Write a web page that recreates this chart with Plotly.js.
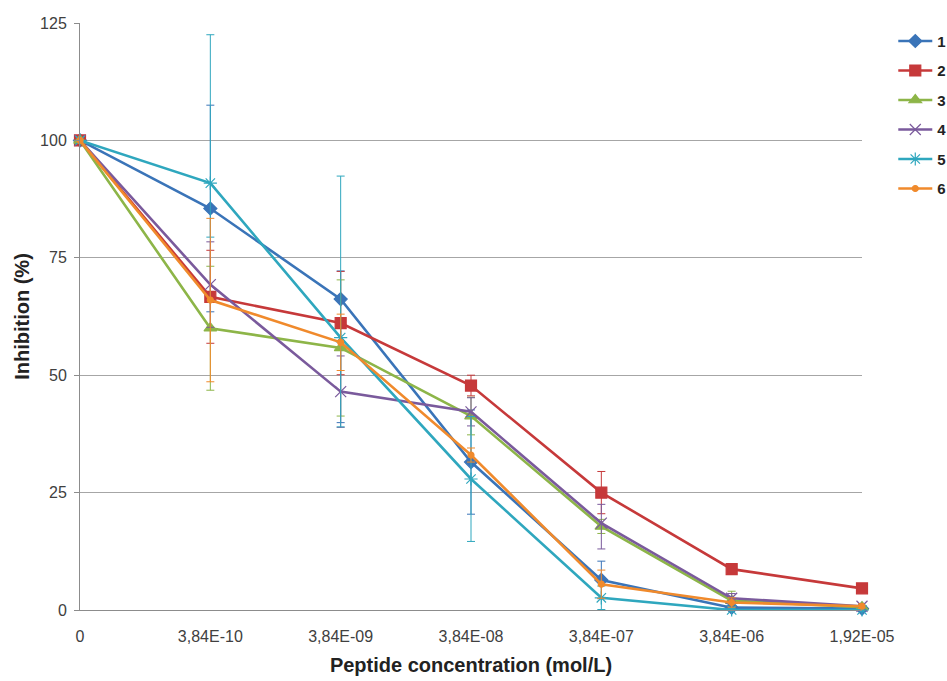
<!DOCTYPE html>
<html>
<head>
<meta charset="utf-8">
<script src="https://cdn.plot.ly/plotly-3.0.1.min.js"></script>
<style>html,body{margin:0;padding:0;background:#fff;}#chart{width:947px;height:681px;}</style>
</head>
<body>
<div id="chart"></div>
<script>
// Categories (peptide concentration, mol/L)
const concentrations = ["0", "3,84E-10", "3,84E-09", "3,84E-08", "3,84E-07", "3,84E-06", "1,92E-05"];
const seriesNames = ["1", "2", "3", "4", "5", "6"];

// Inhibition (%) per series
const s1 = [100, 85.5, 66.2, 31.5, 6.4, 0.5, 0.3];
const s2 = [100, 66.7, 61.1, 47.8, 25.0, 8.7, 4.6];
const s3 = [100, 60.0, 55.8, 41.3, 17.8, 2.0, 0.6];
const s4 = [100, 69.3, 46.5, 42.2, 18.5, 2.5, 0.8];
const s5 = [100, 90.9, 58.0, 27.9, 2.6, 0.0, 0.0];
const s6 = [100, 66.0, 57.0, 33.0, 5.5, 1.6, 0.8];

// Error bars: upper (+) and lower (-) per series
const e1p = [NaN, 22.0, 6.0, 11.1, 4.0, 0.5, 0.3];
const e1m = [NaN, 22.0, 26.3, 11.1, 4.0, 0.5, 0.3];
const e2p = [NaN, 9.9, 11.0, 2.2, 4.5, 1.0, 0.5];
const e2m = [NaN, 9.9, 11.0, 2.2, 4.5, 1.0, 0.5];
const e3p = [NaN, 13.2, 14.5, 4.0, 1.5, 2.0, 0.5];
const e3m = [NaN, 13.2, 14.5, 4.0, 1.5, 2.0, 0.5];
const e4p = [NaN, 9.1, 7.6, 3.0, 4.0, 1.0, 0.5];
const e4m = [NaN, 9.1, 7.6, 3.0, 5.5, 1.0, 0.5];
const e5p = [NaN, 31.6, 34.4, 13.3, 2.5, 0.3, 0.3];
const e5m = [NaN, 11.5, 19.0, 13.3, 2.5, 0.3, 0.3];
const e6p = [NaN, 17.4, 6.0, 1.5, 3.0, 1.0, 0.5];
const e6m = [NaN, 17.4, 6.0, 1.5, 3.0, 1.0, 0.5];

const values = [s1, s2, s3, s4, s5, s6];
const errPlus = [e1p, e2p, e3p, e4p, e5p, e6p];
const errMinus = [e1m, e2m, e3m, e4m, e5m, e6m];
const colors = ["#3A74B8", "#C6393A", "#8DB548", "#7A5A9C", "#2FA7BE", "#F08A2C"];
const symbols = ["diamond", "square", "triangle-up", "x-thin-open", "asterisk-open", "circle"];
const sizes = [10, 11, 11, 11, 11, 6];

const traces = values.map((v, i) => ({
  type: "scatter",
  mode: "lines+markers",
  name: seriesNames[i],
  legendgroup: "g" + i,
  x: concentrations,
  y: v,
  cliponaxis: false,
  line: {color: colors[i], width: 2.6},
  marker: {symbol: symbols[i], size: sizes[i], color: colors[i], line: {color: colors[i], width: 1.2}},
  error_y: {type: "data", array: errPlus[i], arrayminus: errMinus[i], symmetric: false, visible: true, color: colors[i], thickness: 1, width: 4}
}));

const layout = {
  width: 947,
  height: 681,
  paper_bgcolor: "#ffffff",
  plot_bgcolor: "#ffffff",
  margin: {l: 80, r: 85, t: 23, b: 71, autoexpand: false},
  font: {family: "Liberation Sans, Arial, sans-serif", size: 16, color: "#404040"},
  showlegend: true,
  legend: {
    x: 1.04, y: 0.997, xanchor: "left", yanchor: "top",
    font: {family: "Liberation Sans, Arial, sans-serif", size: 15, color: "#222", weight: "bold"},
    tracegroupgap: 7,
    itemwidth: 34,
    bgcolor: "rgba(0,0,0,0)"
  },
  xaxis: {
    type: "category",
    categoryorder: "array",
    categoryarray: concentrations,
    range: [0, 6],
    showgrid: false,
    showline: true,
    linecolor: "#8c8c8c",
    linewidth: 1,
    ticks: "",
    ticklabelstandoff: 12,
    tickfont: {size: 16, color: "#404040"},
    zeroline: false,
    title: {text: "Peptide concentration (mol/L)", font: {size: 20, color: "#222", weight: "bold"}, standoff: 13}
  },
  yaxis: {
    range: [0, 125],
    dtick: 25,
    tick0: 0,
    showgrid: true,
    gridcolor: "#a6a6a6",
    gridwidth: 1,
    showline: true,
    linecolor: "#8c8c8c",
    linewidth: 1,
    ticks: "outside",
    ticklen: 5,
    tickcolor: "#8c8c8c",
    ticklabelstandoff: 4,
    tickfont: {size: 16, color: "#404040"},
    zeroline: false,
    title: {text: "Inhibition (%)", font: {size: 20, color: "#222", weight: "bold"}, standoff: 5}
  }
};

Plotly.newPlot("chart", traces, layout, {displayModeBar: false, staticPlot: true});
</script>
</body>
</html>
